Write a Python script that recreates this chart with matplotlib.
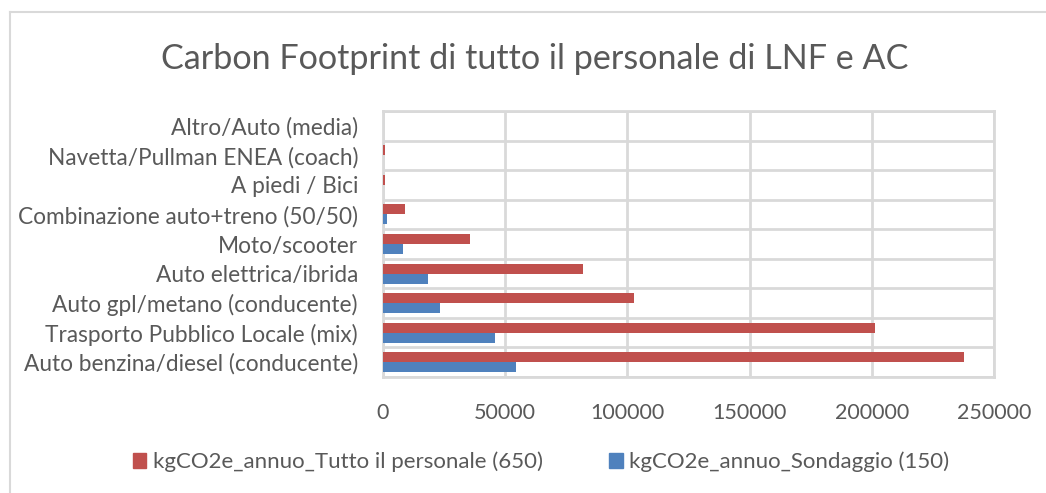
import matplotlib
matplotlib.use('Agg')
import matplotlib.pyplot as plt
from matplotlib.lines import Line2D
from matplotlib.patches import Patch
import numpy as np

plt.rcParams['font.family'] = ['Lato', 'DejaVu Sans']

# categories listed bottom -> top, as they appear on the chart
categories = [
    'Auto benzina/diesel (conducente)',
    'Trasporto Pubblico Locale (mix)',
    'Auto gpl/metano (conducente)',
    'Auto elettrica/ibrida',
    'Moto/scooter',
    'Combinazione auto+treno (50/50)',
    'A piedi / Bici',
    'Navetta/Pullman ENEA (coach)',
    'Altro/Auto (media)',
]
tutto = [237600, 201200, 102600, 81900, 35700, 9200, 950, 800, 0]
sondaggio = [54500, 46000, 23400, 18400, 8100, 1750, 150, 150, 0]
x_ticks = [0, 50000, 100000, 150000, 200000, 250000]

title = 'Carbon Footprint di tutto il personale di LNF e AC'
label_tutto = 'kgCO2e_annuo_Tutto il personale (650)'
label_sond = 'kgCO2e_annuo_Sondaggio (150)'

red = '#C0504D'
blue = '#4F81BD'
grid = '#D9D9D9'
txt = '#595959'

W, H = 1046, 493
fig = plt.figure(figsize=(W / 100, H / 100), dpi=100)
ax = fig.add_axes([383 / W, (H - 377) / H, 611 / W, 266 / H])

y = np.arange(len(categories))
h = 0.34
ax.barh(y + h / 2, tutto, height=h, color=red, zorder=3)
ax.barh(y - h / 2, sondaggio, height=h, color=blue, zorder=3)

ax.set_xlim(0, 250000)
ax.set_ylim(-0.5, len(categories) - 0.5)
ax.set_xticks(x_ticks, [str(t) for t in x_ticks])
ax.set_yticks(y, categories)
ax.set_yticks(np.arange(-0.5, len(categories)), minor=True)
ax.grid(axis='x', which='major', color=grid, lw=2, zorder=0)
ax.grid(axis='y', which='minor', color=grid, lw=2, zorder=0)
for s in ax.spines.values():
    s.set_color(grid)
    s.set_linewidth(2)
ax.tick_params(which='both', length=0)
ax.tick_params(axis='y', pad=18, labelsize=16.3, labelcolor=txt)
ax.tick_params(axis='x', pad=19, labelsize=15.5, labelcolor=txt)

fig.text(535 / W, (H - 59) / H, title, ha='center', va='center',
         fontsize=24.6, color=txt)

handles = [Patch(color=red), Patch(color=blue)]
fig.legend(handles, [label_tutto, label_sond], loc='center',
           bbox_to_anchor=(541 / W, 31 / H), ncol=2, frameon=False,
           fontsize=16, labelcolor=txt, handlelength=0.6, handleheight=0.6,
           handletextpad=0.3, columnspacing=3.0)

# outer chart border (only top and left visible in the crop)
fig.add_artist(Line2D([10 / W, 1], [1 - 12 / H, 1 - 12 / H], color=grid, lw=1.5,
                      transform=fig.transFigure))
fig.add_artist(Line2D([10 / W, 10 / W], [0, 1 - 12 / H], color=grid, lw=1.5,
                      transform=fig.transFigure))

fig.savefig('out.png', dpi=100)
